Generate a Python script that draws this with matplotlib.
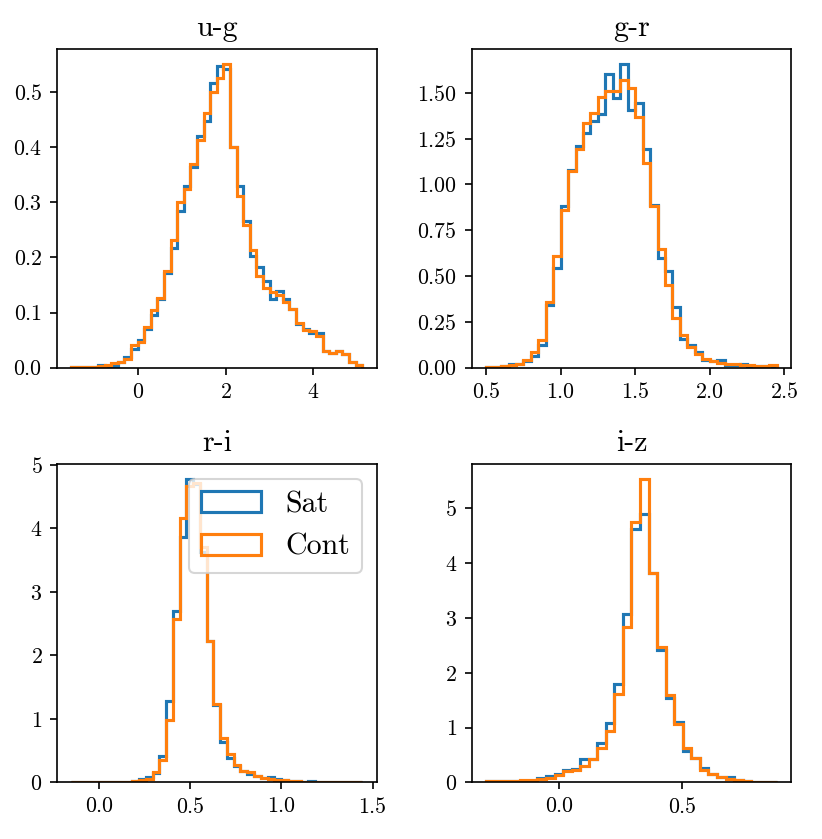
import numpy as np
import matplotlib
matplotlib.use("Agg")
import matplotlib.pyplot as plt

plt.rcParams['font.family'] = ['cmr10', 'DejaVu Serif']
plt.rcParams['mathtext.fontset'] = 'cm'
plt.rcParams['axes.formatter.use_mathtext'] = True
plt.rcParams['axes.unicode_minus'] = False

titles = ["u-g", "g-r", "r-i", "i-z"]

# bin ranges (lo, hi, number of bins) per panel
ug_range = (-1.516, 5.11, 44)
gr_range = (0.50, 2.45, 39)
ri_range = (-0.152, 1.443, 43)
iz_range = (-0.299, 0.887, 34)

ug_sat = [0.001, 0.001, 0.001, 0.002, 0.004, 0.003, 0.003, 0.010, 0.019, 0.034,
          0.050, 0.070, 0.095, 0.125, 0.172, 0.218, 0.285, 0.330, 0.364, 0.421,
          0.447, 0.517, 0.547, 0.543, 0.400, 0.330, 0.266, 0.202, 0.183, 0.157,
          0.125, 0.140, 0.125, 0.106, 0.079, 0.070, 0.062, 0.062, 0.030, 0.027,
          0.030, 0.024, 0.010, 0.004]
ug_cont = [0.001, 0.001, 0.001, 0.002, 0.003, 0.004, 0.008, 0.010, 0.015, 0.042,
           0.047, 0.073, 0.104, 0.126, 0.175, 0.231, 0.300, 0.325, 0.370, 0.414,
           0.463, 0.501, 0.525, 0.551, 0.400, 0.311, 0.259, 0.214, 0.167, 0.145,
           0.137, 0.131, 0.119, 0.106, 0.081, 0.068, 0.066, 0.057, 0.030, 0.027,
           0.031, 0.024, 0.010, 0.004]

gr_sat = [0.004, 0.004, 0.007, 0.018, 0.022, 0.036, 0.064, 0.125, 0.343, 0.543,
          0.881, 1.079, 1.211, 1.278, 1.347, 1.384, 1.603, 1.474, 1.656, 1.405,
          1.442, 1.193, 0.890, 0.599, 0.525, 0.330, 0.158, 0.122, 0.085, 0.044,
          0.036, 0.044, 0.016, 0.016, 0.018, 0.009, 0.007, 0.007, 0.005]
gr_cont = [0.004, 0.004, 0.009, 0.013, 0.018, 0.040, 0.085, 0.149, 0.356, 0.608,
           0.861, 1.075, 1.193, 1.335, 1.391, 1.476, 1.509, 1.507, 1.571, 1.525,
           1.366, 1.115, 0.883, 0.648, 0.449, 0.272, 0.176, 0.113, 0.073, 0.049,
           0.036, 0.027, 0.022, 0.018, 0.013, 0.013, 0.007, 0.009, 0.013]

ri_sat = [0.003, 0.003, 0.003, 0.003, 0.003, 0.003, 0.004, 0.005, 0.010, 0.020,
          0.050, 0.080, 0.140, 0.420, 1.280, 2.700, 3.860, 4.780, 4.700, 3.630,
          2.220, 1.220, 0.640, 0.390, 0.250, 0.180, 0.130, 0.100, 0.070, 0.090,
          0.050, 0.030, 0.025, 0.015, 0.010, 0.020, 0.005, 0.005, 0.005, 0.005,
          0.004, 0.004, 0.004]
ri_cont = [0.003, 0.003, 0.003, 0.003, 0.003, 0.003, 0.004, 0.006, 0.012, 0.020,
           0.030, 0.060, 0.160, 0.350, 0.990, 2.570, 4.170, 4.670, 4.710, 3.710,
           2.220, 1.230, 0.700, 0.450, 0.280, 0.180, 0.160, 0.100, 0.070, 0.060,
           0.040, 0.030, 0.025, 0.015, 0.010, 0.010, 0.005, 0.005, 0.005, 0.005,
           0.004, 0.004, 0.004]

iz_sat = [0.020, 0.020, 0.030, 0.030, 0.025, 0.025, 0.085, 0.120, 0.150, 0.220,
          0.240, 0.420, 0.420, 0.710, 1.080, 1.790, 3.080, 4.630, 4.890, 3.820,
          2.410, 1.540, 1.110, 0.570, 0.440, 0.270, 0.160, 0.090, 0.100, 0.040,
          0.025, 0.015, 0.010, 0.005]
iz_cont = [0.030, 0.020, 0.030, 0.030, 0.040, 0.040, 0.060, 0.085, 0.130, 0.210,
           0.220, 0.290, 0.420, 0.620, 0.940, 1.610, 2.840, 4.760, 5.540, 3.820,
           2.470, 1.590, 1.060, 0.620, 0.440, 0.220, 0.150, 0.100, 0.060, 0.040,
           0.025, 0.015, 0.010, 0.005]

panels = [
    (ug_range, ug_sat, ug_cont),
    (gr_range, gr_sat, gr_cont),
    (ri_range, ri_sat, ri_cont),
    (iz_range, iz_sat, iz_cont),
]

fig, axes = plt.subplots(2, 2, figsize=(822 / 150, 839 / 150), dpi=150)
fig.subplots_adjust(left=0.0693, right=0.9627, top=0.9416, bottom=0.0675,
                    wspace=0.297, hspace=0.3015)

for ax, title, (rng, sat, cont) in zip(axes.flat, titles, panels):
    lo, hi, n = rng
    edges = np.linspace(lo, hi, n + 1)
    centers = 0.5 * (edges[:-1] + edges[1:])
    ax.hist(centers, bins=edges, weights=sat, histtype='step',
            color='tab:blue', linewidth=1.5, label='Sat')
    ax.hist(centers, bins=edges, weights=cont, histtype='step',
            color='tab:orange', linewidth=1.5, label='Cont')
    ax.set_title(title, fontsize=14.4)
    ax.tick_params(labelsize=10.5)

axes[0, 0].set_xticks([0, 2, 4])
axes[0, 1].set_xticks([0.5, 1.0, 1.5, 2.0, 2.5])
axes[1, 0].set_xticks([0.0, 0.5, 1.0, 1.5])
axes[1, 1].set_xticks([0.0, 0.5])

axes[1, 0].legend(loc='upper right', fontsize=14.4)

fig.savefig("out.png", dpi=150)
